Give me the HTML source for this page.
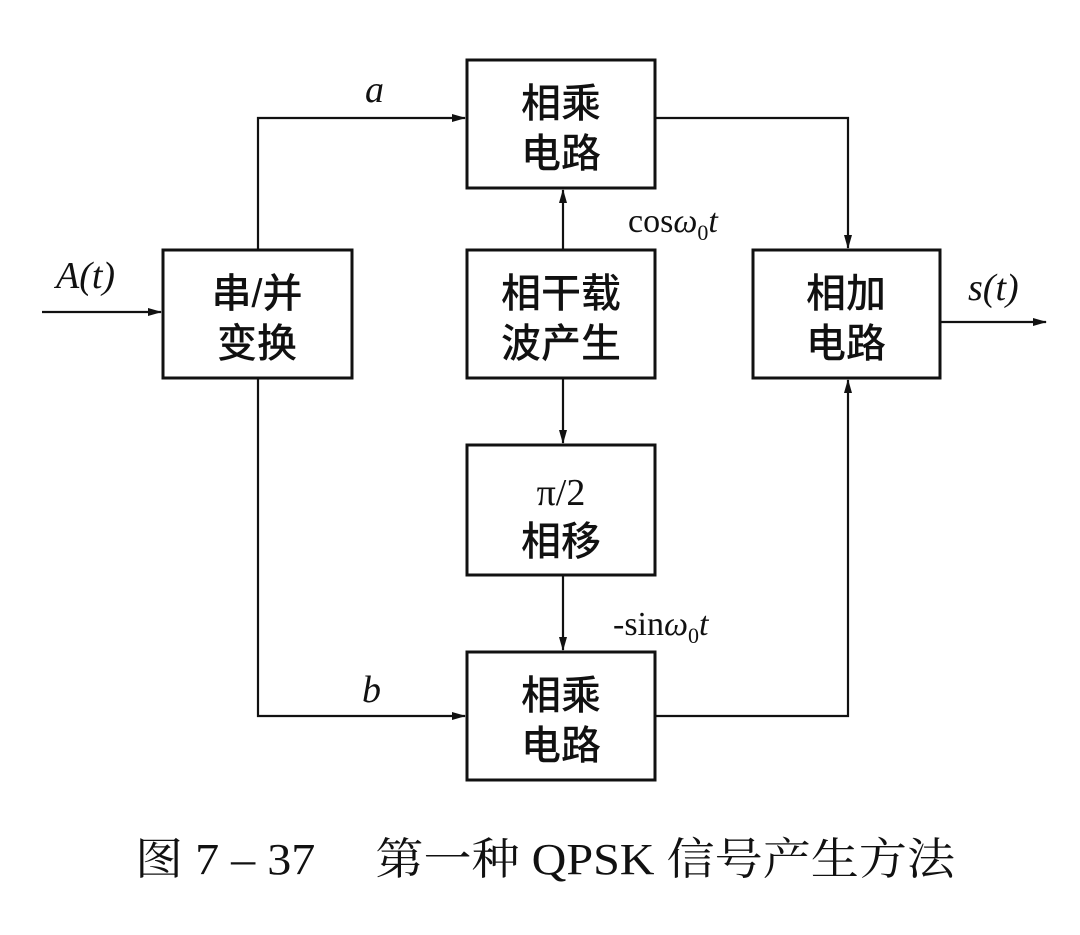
<!DOCTYPE html>
<html><head><meta charset="utf-8"><style>
html,body{margin:0;padding:0;background:#fff;}
svg{display:block}
.c{font-family:"Liberation Sans","Noto Sans CJK SC",sans-serif;font-size:40px;font-weight:500;fill:#111;text-anchor:middle}
.i{font-family:"Liberation Serif",serif;font-style:italic;font-size:38px;fill:#111}
.r{font-family:"Liberation Serif",serif;font-size:34px;fill:#111}
</style></head><body>
<svg width="1080" height="935" viewBox="0 0 1080 935" xmlns="http://www.w3.org/2000/svg">
<defs><marker id="a" markerWidth="14" markerHeight="10" refX="13" refY="5" orient="auto" markerUnits="userSpaceOnUse"><path d="M0,1 L14,5 L0,9 z" fill="#111"/></marker></defs>
<g fill="none" stroke="#111" stroke-width="3">
<rect x="467" y="60" width="188" height="128"/>
<rect x="163" y="250" width="189" height="128"/>
<rect x="467" y="250" width="188" height="128"/>
<rect x="753" y="250" width="187" height="128"/>
<rect x="467" y="445" width="188" height="130"/>
<rect x="467" y="652" width="188" height="128"/>
<g stroke-width="2.2">
<path d="M42,312 H161" marker-end="url(#a)"/>
<path d="M258,250 V118 H465" marker-end="url(#a)"/>
<path d="M258,378 V716 H465" marker-end="url(#a)"/>
<path d="M655,118 H848 V248" marker-end="url(#a)"/>
<path d="M655,716 H848 V380" marker-end="url(#a)"/>
<path d="M940,322 H1046" marker-end="url(#a)"/>
<path d="M563,250 V190" marker-end="url(#a)"/>
<path d="M563,378 V443" marker-end="url(#a)"/>
<path d="M563,575 V650" marker-end="url(#a)"/>
</g></g>
<text class="c" x="561" y="117">相乘</text><text class="c" x="561" y="167">电路</text>
<text class="c" x="257" y="307">串/并</text><text class="c" x="257" y="357">变换</text>
<text class="c" x="561" y="307">相干载</text><text class="c" x="561" y="357">波产生</text>
<text class="c" x="846" y="307">相加</text><text class="c" x="846" y="357">电路</text>
<text class="c" x="561" y="505" style="font-family:'Liberation Serif',serif;font-size:38px">π/2</text><text class="c" x="561" y="555">相移</text>
<text class="c" x="561" y="709">相乘</text><text class="c" x="561" y="759">电路</text>
<text class="i" x="365" y="102">a</text>
<text class="i" x="362" y="702">b</text>
<text class="i" x="56" y="288">A(t)</text>
<text class="i" x="968" y="300">s(t)</text>
<text class="r" x="628" y="232">cos<tspan font-style="italic">ω</tspan><tspan font-size="22" dy="8">0</tspan><tspan font-style="italic" dy="-8">t</tspan></text>
<text class="r" x="613" y="635">-sin<tspan font-style="italic">ω</tspan><tspan font-size="22" dy="8">0</tspan><tspan font-style="italic" dy="-8">t</tspan></text>
<text x="135" y="874" textLength="820" lengthAdjust="spacingAndGlyphs" style="font-family:'Liberation Serif','Noto Serif CJK SC',serif;font-size:44px;fill:#111">图 7 – 37　 第一种 QPSK 信号产生方法</text>
</svg>
</body></html>
